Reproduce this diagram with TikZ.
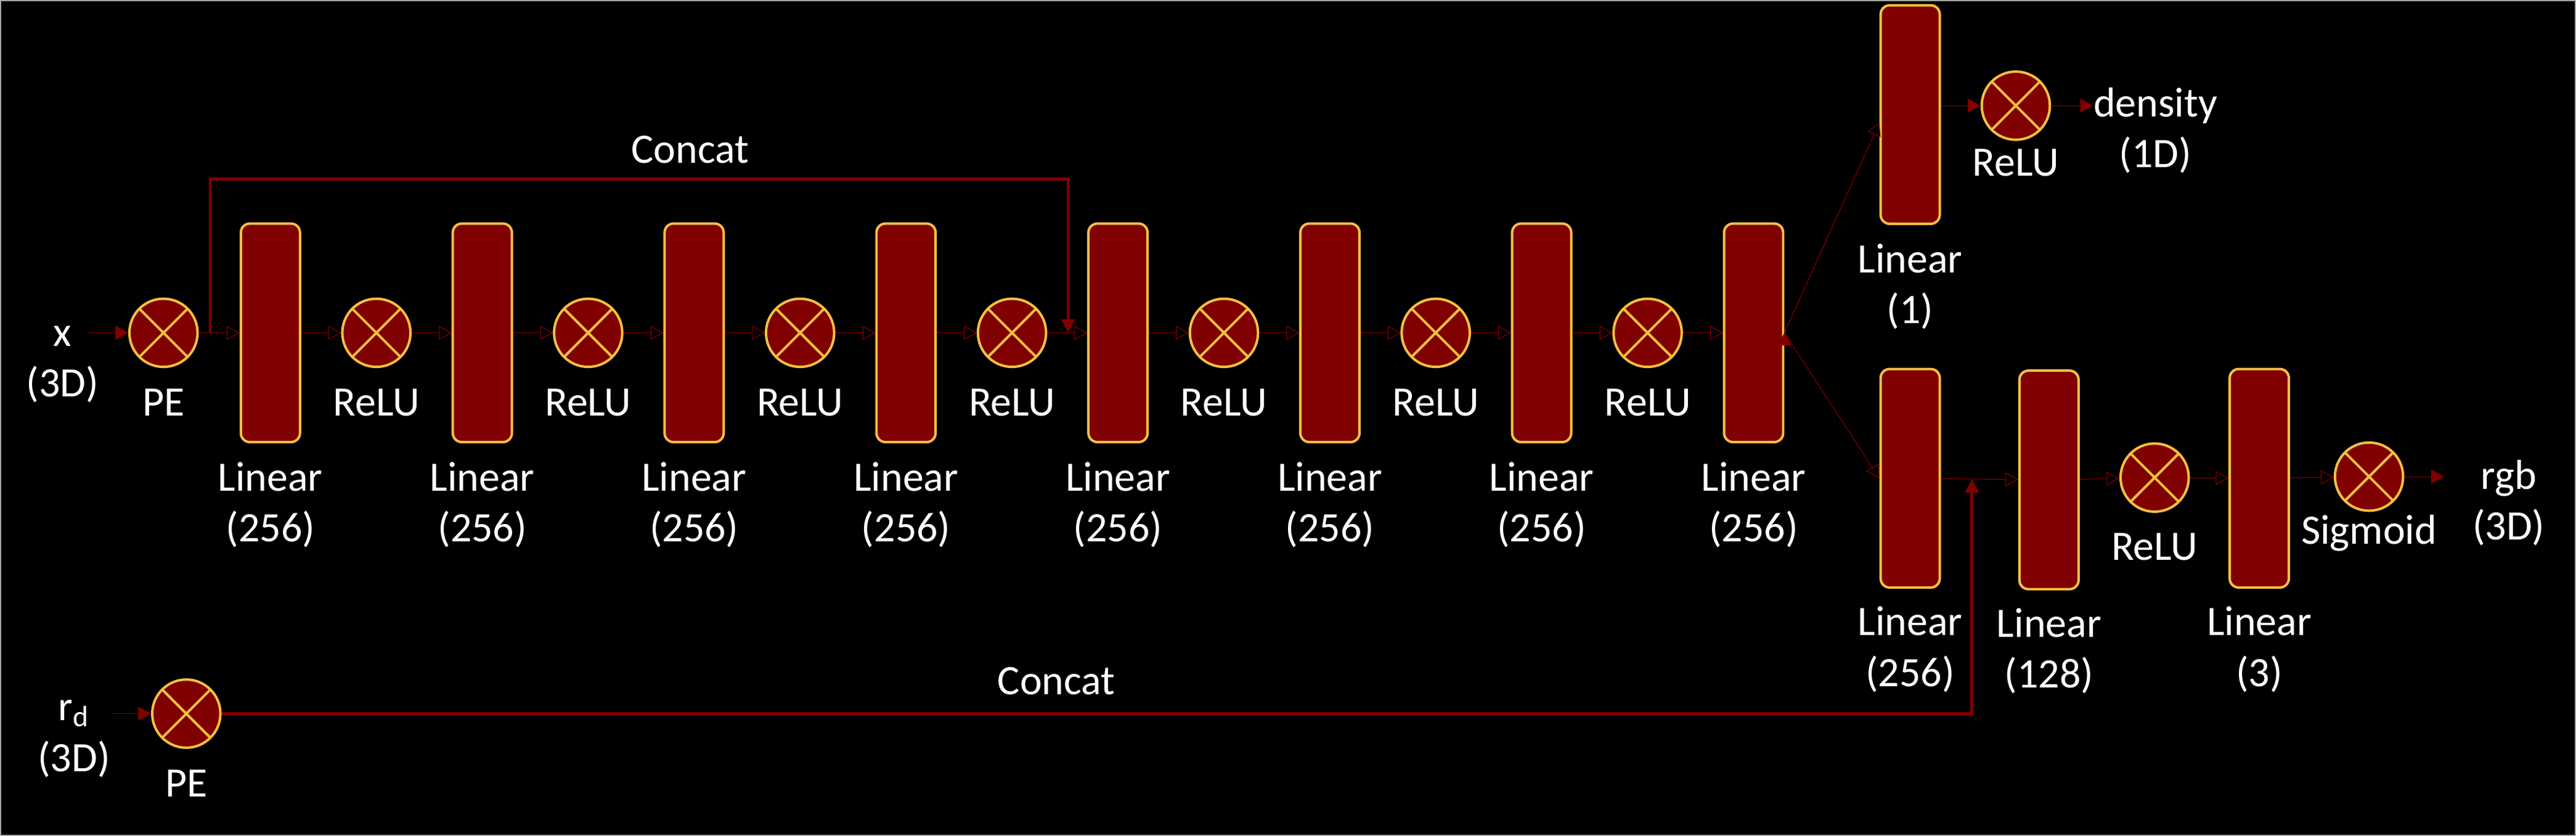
\documentclass[tikz,border=0pt]{standalone}
\usepackage{fontspec}
\setmainfont{Carlito}
\usepackage{tikz}
\usetikzlibrary{positioning,calc,arrows.meta}
\definecolor{boxred}{HTML}{800000}
\definecolor{boxgold}{HTML}{F4C041}

\begin{document}
\begin{tikzpicture}[x=0.02cm,y=-0.02cm,
  layer/.style={draw=boxgold, fill=boxred, line width=0.85pt, rounded corners=0.11cm,
    minimum width=0.72cm, minimum height=2.66cm, inner sep=0},
  op/.style={draw=boxgold, fill=boxred, line width=0.85pt, circle, minimum size=0.83cm, inner sep=0,
    path picture={\draw[boxgold, line width=0.85pt]
      (path picture bounding box.north west) -- (path picture bounding box.south east)
      (path picture bounding box.north east) -- (path picture bounding box.south west);}},
  txt/.style={text=white, font=\fontsize{14.5pt}{17.6pt}\selectfont, align=center, inner sep=0, anchor=north},
  flow/.style={draw=boxred, line width=0.25pt, -{Triangle[length=0.155cm,width=0.17cm]}},
  concat/.style={draw=boxred, line width=1pt, -{Triangle[length=0.165cm,width=0.16cm]}}]
\useasboundingbox (0,0) rectangle (1568,508.66);
\fill[black] (0,0) rectangle (1568,508.66);
\draw[gray!70, line width=0.4pt] (0.4,0.4) rectangle (1567.6,508.26);

% main row
\node [op] (pex) at (99.5,202.5) {};
\node [layer] (l1) at (164.6,202.5) {};
\node [op] (r1) at (229.1,202.5) {};
\node [layer] (l2) at (293.6,202.5) {};
\node [op] (r2) at (358.0,202.5) {};
\node [layer] (l3) at (422.5,202.5) {};
\node [op] (r3) at (487.0,202.5) {};
\node [layer] (l4) at (551.5,202.5) {};
\node [op] (r4) at (616.0,202.5) {};
\node [layer] (l5) at (680.5,202.5) {};
\node [op] (r5) at (745.0,202.5) {};
\node [layer] (l6) at (809.5,202.5) {};
\node [op] (r6) at (873.9,202.5) {};
\node [layer] (l7) at (938.4,202.5) {};
\node [op] (r7) at (1002.9,202.5) {};
\node [layer] (l8) at (1067.4,202.5) {};

% density head
\node [layer] (ld) at (1162.7,69.7) {};
\node [op] (rd) at (1227,64.3) {};

% colour head
\node [layer] (lc1) at (1162.7,291) {};
\node [layer] (lc2) at (1247.2,292) {};
\node [op] (rc) at (1311.5,290.6) {};
\node [layer] (lc3) at (1375.2,291) {};
\node [op] (sg) at (1442,290) {};

% direction input
\node [op] (ped) at (113.4,434.2) {};

% texts
\node [txt] (inx) at (38,198) {x\\(3D)};
\node [txt] (ind) at (45,425.7) {r\textsubscript{d}\\(3D)};
\node [txt] (outd) at (1312,53) {density\\(1D)};
\node [txt] (outc) at (1527,279.6) {rgb\\(3D)};
\node [txt] (tcat1) at (420,82.5) {Concat};
\node [txt] (tcat2) at (643,405.7) {Concat};

\node [txt, below=0.25cm of pex] (tpex) {PE};
\node [txt, below=0.25cm of ped] (tped) {PE};
\node [txt, below=0.22cm of l1] (tl1) {Linear\\(256)};
\node [txt, below=0.22cm of l2] (tl2) {Linear\\(256)};
\node [txt, below=0.22cm of l3] (tl3) {Linear\\(256)};
\node [txt, below=0.22cm of l4] (tl4) {Linear\\(256)};
\node [txt, below=0.22cm of l5] (tl5) {Linear\\(256)};
\node [txt, below=0.22cm of l6] (tl6) {Linear\\(256)};
\node [txt, below=0.22cm of l7] (tl7) {Linear\\(256)};
\node [txt, below=0.22cm of l8] (tl8) {Linear\\(256)};
\node [txt, below=0.245cm of r1] (tr1) {ReLU};
\node [txt, below=0.245cm of r2] (tr2) {ReLU};
\node [txt, below=0.245cm of r3] (tr3) {ReLU};
\node [txt, below=0.245cm of r4] (tr4) {ReLU};
\node [txt, below=0.245cm of r5] (tr5) {ReLU};
\node [txt, below=0.245cm of r6] (tr6) {ReLU};
\node [txt, below=0.245cm of r7] (tr7) {ReLU};
\node [txt, below=0.22cm of ld] (tld) {Linear\\(1)};
\node [txt, below=0.09cm of rd] (trd) {ReLU};
\node [txt, below=0.21cm of lc1] (tlc1) {Linear\\(256)};
\node [txt, below=0.21cm of lc2] (tlc2) {Linear\\(128)};
\node [txt, below=0.24cm of rc] (trc) {ReLU};
\node [txt, below=0.21cm of lc3] (tlc3) {Linear\\(3)};
\node [txt, below=0.03cm of sg] (tsg) {Sigmoid};

% connectors
\draw [flow, shorten <=-0.14cm] (inx.east |- pex) -- (pex);
\draw [flow] (ind.east |- ped) -- (ped);
\path [flow] (pex) edge (l1) (l1) edge (r1) (r1) edge (l2) (l2) edge (r2)
  (r2) edge (l3) (l3) edge (r3) (r3) edge (l4) (l4) edge (r4)
  (r4) edge (l5) (l5) edge (r5) (r5) edge (l6) (l6) edge (r6)
  (r6) edge (l7) (l7) edge (r7) (r7) edge (l8);
\path [flow] (l8.east) edge ([yshift=-0.1cm]ld.west) (l8.east) edge (lc1.west);
\draw [flow] (ld.east |- rd) -- (rd);
\draw [flow] (rd) -- (outd.west |- rd);
\path [flow] (lc1) edge (lc2) (lc2) edge (rc) (rc) edge (lc3) (lc3) edge (sg);
\draw [flow, shorten >=0.34cm] (sg) -- (outc.west |- sg);

\coordinate (cx1) at ($(pex.east)!0.28!(l1.west)$);
\coordinate (cx2) at ($(r4.east)!0.52!(l5.west)$);
\coordinate (cx3) at ($(lc1.east)!0.4!(lc2.west)$);
\draw [concat] (cx1) -- ++(0,-93.5) -| (cx2);
\draw [concat] (ped.east) -| (cx3);
\end{tikzpicture}
\end{document}
